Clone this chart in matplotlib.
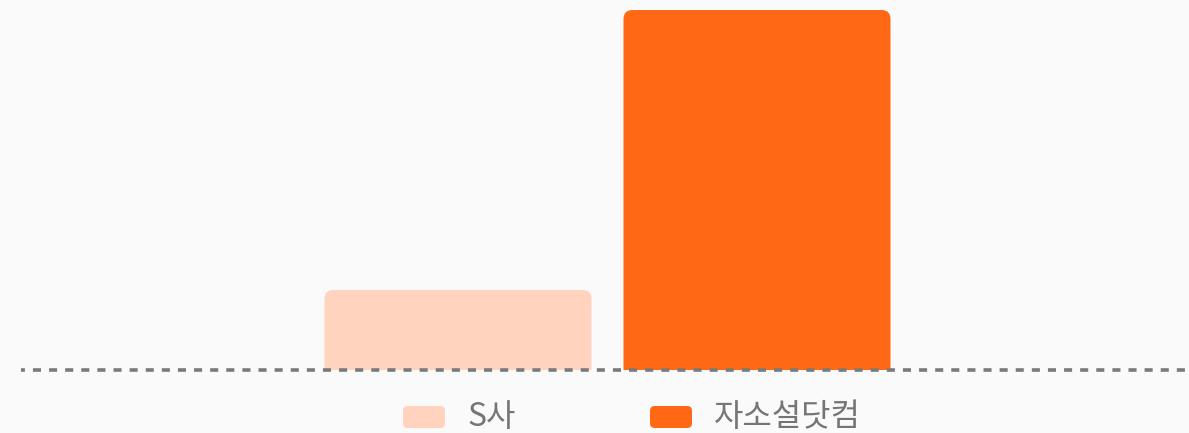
import matplotlib
matplotlib.use('Agg')
import matplotlib.pyplot as plt
from matplotlib.path import Path
from matplotlib.patches import PathPatch, FancyBboxPatch

# ── Data ─────────────────────────────────────────────
series = ['S사', '자소설닷컴']
values = [20, 90]
colors = ['#FFD3BD', '#FF6915']

BG = '#FAFAFA'
LINE = '#7A7A7A'
TXT = '#757575'
FONT = ['Noto Sans CJK KR', 'DejaVu Sans']

plt.rcParams['font.family'] = FONT

W, H, DPI = 1189, 433, 100
fig = plt.figure(figsize=(W / DPI, H / DPI), dpi=DPI, facecolor=BG)

# axes: baseline at y=370px, top at 0
ax_left, ax_bottom = 21 / W, (H - 370) / H
ax = fig.add_axes([ax_left, ax_bottom, 1 - ax_left, 370 / H])
ax.set_facecolor(BG)
for s in ax.spines.values():
    s.set_visible(False)
ax.set_xticks([]); ax.set_yticks([])

ymax = max(values) * (370 / 360)
ax.set_xlim(-0.5, 0.5)
ax.set_ylim(0, ymax)

ax_w_px = (1 - ax_left) * W
ax_h_px = 370
bar_w = 267 / ax_w_px
gap = 32 / ax_w_px
center = 2.5 / ax_w_px


def rounded_bar(ax, x0, w, h, r_px, color):
    rx = r_px / ax_w_px
    ry = r_px * ymax / ax_h_px
    ry = min(ry, h)
    verts = [(x0, 0), (x0, h - ry), (x0, h), (x0 + rx, h),
             (x0 + w - rx, h), (x0 + w, h), (x0 + w, h - ry),
             (x0 + w, 0), (x0, 0)]
    codes = [Path.MOVETO, Path.LINETO, Path.CURVE3, Path.CURVE3,
             Path.LINETO, Path.CURVE3, Path.CURVE3,
             Path.LINETO, Path.CLOSEPOLY]
    ax.add_patch(PathPatch(Path(verts, codes), facecolor=color,
                           edgecolor='none', zorder=2))


n = len(values)
total = n * bar_w + (n - 1) * gap
for i, (v, c) in enumerate(zip(values, colors)):
    x0 = center - total / 2 + i * (bar_w + gap)
    rounded_bar(ax, x0, bar_w, v, 9, c)

plt.rcParams['lines.scale_dashes'] = False
ax.axhline(0, color=LINE, linewidth=2.6, linestyle=(3, (5.8, 5.8)),
           dash_capstyle='butt', zorder=3, clip_on=False)

# ── Legend (manual, rounded swatches) ────────────────
leg_y = (H - 417) / H
sw_w, sw_h = 42 / W, 22 / H
leg_x = [403 / W, 650 / W]
for lx, lab, c in zip(leg_x, series, colors):
    fig.patches.append(FancyBboxPatch(
        (lx, leg_y - sw_h / 2), sw_w, sw_h,
        boxstyle='round,pad=0,rounding_size=0.004',
        mutation_aspect=W / H,
        transform=fig.transFigure, facecolor=c, edgecolor='none'))
    fig.text(lx + 64 / W, leg_y, lab, fontsize=23, color=TXT,
             va='center', ha='left', family=FONT)

fig.savefig('out.png', dpi=DPI, facecolor=BG)
